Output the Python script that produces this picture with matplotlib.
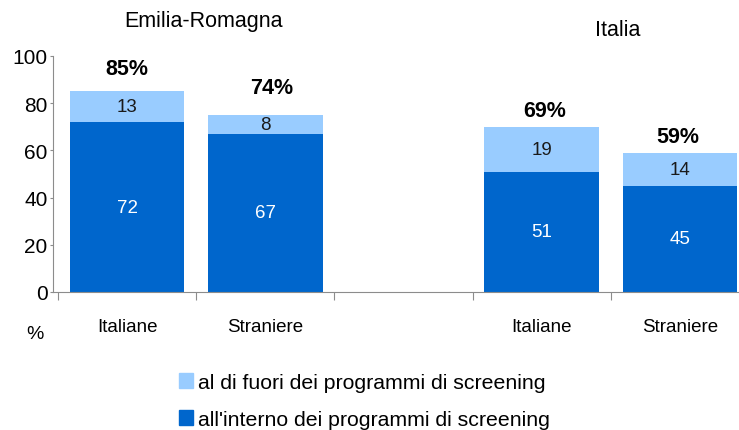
import matplotlib.pyplot as plt
from matplotlib.patches import Patch

plt.rcParams['font.family'] = ['Liberation Sans', 'DejaVu Sans']

categories = ['Italiane', 'Straniere', '', 'Italiane', 'Straniere']
interno = [72, 67, None, 51, 45]
fuori = [13, 8, None, 19, 14]
totale = ['85%', '74%', None, '69%', '59%']
groups = ['Emilia-Romagna', 'Italia']
serie = ['al di fuori dei programmi di screening', "all'interno dei programmi di screening"]

dark = '#0066CC'
light = '#99CCFF'
grey = '#8c8c8c'

fig = plt.figure(figsize=(7.39, 4.31), dpi=100)
ax = fig.add_axes([53 / 739, 1 - 293 / 431, 1 - 53 / 739, 236 / 431])

pos = [i for i, v in enumerate(interno) if v is not None]
low = [interno[i] for i in pos]
high = [fuori[i] for i in pos]
w = 0.83
ax.bar(pos, low, width=w, color=dark, zorder=2)
ax.bar(pos, high, width=w, bottom=low, color=light, zorder=2)

for i, p in enumerate(pos):
    ax.text(p, low[i] / 2, str(low[i]), ha='center', va='center', color='white', fontsize=13.5)
    ax.text(p, low[i] + high[i] / 2, str(high[i]), ha='center', va='center', color='#1a1a1a', fontsize=13.5)

lift = [23, 27, 16, 16]
shift = [0, 6, 3, -2]
for i, p in enumerate(pos):
    ax.annotate(totale[p], (p, low[i] + high[i]), xytext=(shift[i], lift[i]), textcoords='offset pixels',
                ha='center', va='center', fontsize=15.5, fontweight='bold')

ax.set_yticks(range(0, 101, 20))
ax.set_xticks([x + 0.5 for x in range(-1, 5)])
ax.set_xticklabels([])
ax.set_xticks(range(5), minor=True)
ax.set_xticklabels(categories, minor=True, fontsize=13.5)
ax.set_ylim(0, 100)
ax.set_xlim(-0.5 - 5 / 138.25, 4.5 - 10 / 138.25)
ax.tick_params(axis='x', which='minor', length=0, pad=19)
ax.tick_params(axis='x', which='major', length=6, color=grey, direction='out')
ax.tick_params(axis='y', length=2.5, color=grey, labelsize=15, pad=1.5)

for s in ['top', 'right']:
    ax.spines[s].set_visible(False)
for s in ['left', 'bottom']:
    ax.spines[s].set_color(grey)

fig.text(203 / 739, 1 - 22 / 431, groups[0], ha='center', va='center', fontsize=15.5)
fig.text(618 / 739, 1 - 30 / 431, groups[1], ha='center', va='center', fontsize=15.5)
fig.text(35 / 739, 1 - 335 / 431, '%', ha='center', va='center', fontsize=14)

handles = [Patch(color=light), Patch(color=dark)]
fig.legend(handles, serie, loc='center left', bbox_to_anchor=(179 / 739, 1 - 402 / 431),
           frameon=False, fontsize=15.3, handlelength=0.66, handleheight=0.66,
           handletextpad=0.25, labelspacing=0.85, borderpad=0, borderaxespad=0)

fig.savefig('out.png', dpi=100)
